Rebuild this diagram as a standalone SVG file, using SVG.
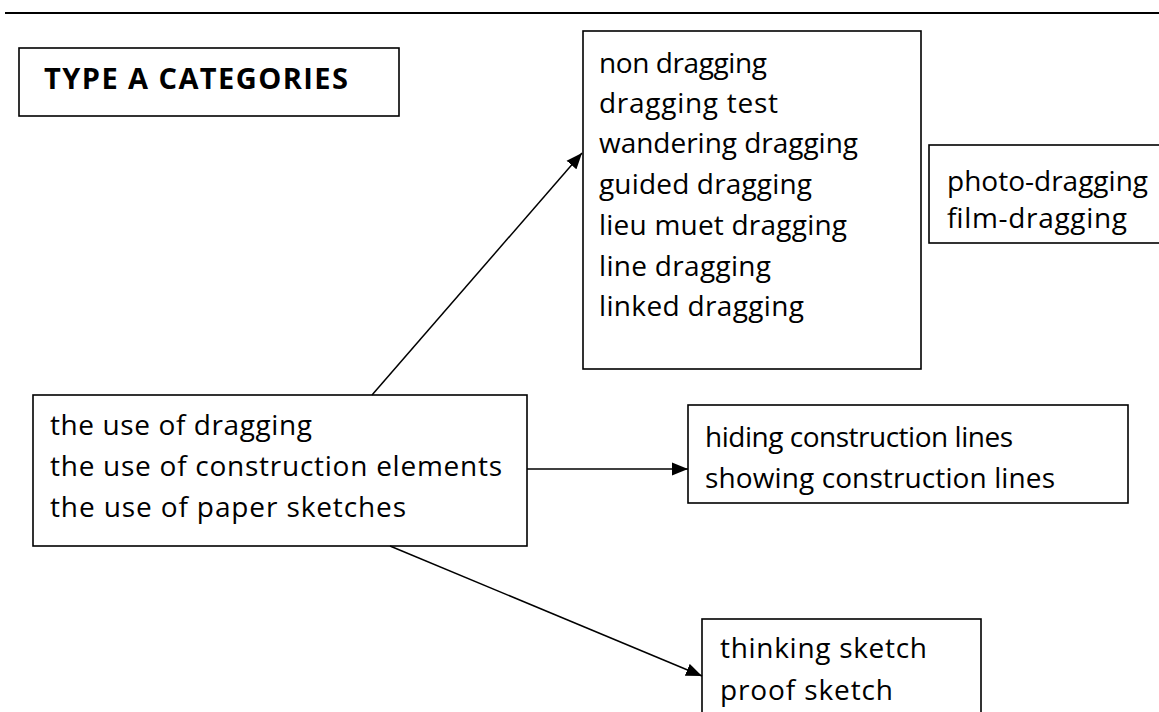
<svg xmlns="http://www.w3.org/2000/svg" width="1159" height="712" viewBox="0 0 1159 712">
  <style>
    .box { fill: #ffffff; stroke: #000000; stroke-width: 1.6; }
    .t { font-family: "Open Sans", "DejaVu Sans", sans-serif; font-size: 28px; fill: #000000; }
    .title { font-family: "Open Sans", "DejaVu Sans", sans-serif; font-size: 29px; font-weight: bold; fill: #000000; }
    .conn { stroke: #000000; stroke-width: 1.5; fill: none; marker-end: url(#arrow); }
  </style>
  <defs>
    <marker id="arrow" markerUnits="userSpaceOnUse" markerWidth="17" markerHeight="14" refX="16" refY="7" orient="auto">
      <path d="M0,0.5 L16,7 L0,13.5 Z" fill="#000000"/>
    </marker>
  </defs>
  <rect width="1159" height="712" fill="#ffffff"/>
  <line x1="5" y1="13" x2="1159" y2="13" stroke="#000000" stroke-width="2"/>

  <g id="title">
    <rect class="box" x="19" y="48" width="380" height="68"/>
    <text class="title" x="44" y="89" textLength="304">TYPE A CATEGORIES</text>
  </g>

  <g id="dragging-types">
    <rect class="box" x="583" y="31" width="338" height="338"/>
    <text class="t" x="599" y="73" textLength="168">non dragging</text>
    <text class="t" x="599" y="113" textLength="179">dragging test</text>
    <text class="t" x="599" y="153" textLength="259">wandering dragging</text>
    <text class="t" x="599" y="194" textLength="213">guided dragging</text>
    <text class="t" x="599" y="235" textLength="248">lieu muet dragging</text>
    <text class="t" x="599" y="276" textLength="172">line dragging</text>
    <text class="t" x="599" y="316" textLength="205">linked dragging</text>
  </g>

  <g id="photo-film">
    <rect class="box" x="929" y="145" width="236" height="98"/>
    <text class="t" x="947" y="191" textLength="201">photo-dragging</text>
    <text class="t" x="947" y="228" textLength="180">film-dragging</text>
  </g>

  <g id="main">
    <rect class="box" x="33" y="395" width="494" height="151"/>
    <text class="t" x="50" y="435" textLength="262">the use of dragging</text>
    <text class="t" x="50" y="476" textLength="452">the use of construction elements</text>
    <text class="t" x="50" y="517" textLength="356">the use of paper sketches</text>
  </g>

  <g id="construction">
    <rect class="box" x="688" y="405" width="440" height="98"/>
    <text class="t" x="705" y="447" textLength="308">hiding construction lines</text>
    <text class="t" x="705" y="488" textLength="350">showing construction lines</text>
  </g>

  <g id="sketches">
    <rect class="box" x="702" y="619" width="279" height="101"/>
    <text class="t" x="720" y="658" textLength="207">thinking sketch</text>
    <text class="t" x="720" y="700" textLength="173">proof sketch</text>
  </g>

  <g id="connectors">
    <line class="conn" x1="372" y1="395" x2="582" y2="153"/>
    <line class="conn" x1="527" y1="469" x2="688" y2="469"/>
    <line class="conn" x1="390" y1="546" x2="702" y2="676"/>
  </g>
</svg>
